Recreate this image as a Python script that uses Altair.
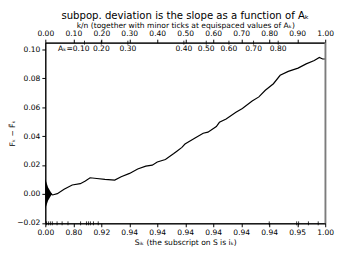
import altair as alt
import pandas as pd

# curve: k/n vs deviation
kn = [0.02, 0.026, 0.043, 0.067, 0.096, 0.125, 0.143, 0.160, 0.184, 0.213, 0.248, 0.271,
      0.301, 0.330, 0.359, 0.382, 0.400, 0.429, 0.459, 0.470, 0.488, 0.499, 0.535, 0.564,
      0.581, 0.611, 0.622, 0.646, 0.681, 0.704, 0.739, 0.763, 0.786, 0.815, 0.839, 0.868,
      0.903, 0.932, 0.961, 0.979, 0.991, 1.0]
dev = [0.0, -0.0007, 0.0002, 0.0032, 0.0062, 0.0071, 0.0089, 0.0112, 0.0107, 0.0101, 0.0096, 0.0119,
       0.0142, 0.0173, 0.0192, 0.0199, 0.0221, 0.0238, 0.0279, 0.0295, 0.0322, 0.0345, 0.0386, 0.0420,
       0.0427, 0.0466, 0.0495, 0.0518, 0.0564, 0.0591, 0.0642, 0.0671, 0.0717, 0.0762, 0.0820, 0.0847,
       0.0870, 0.0899, 0.0922, 0.0944, 0.0933, 0.0933]

# triangle at origin
tri_x = [0.0, 0.01, 0.02, 0.025]
tri_hi = [0.0103, 0.0045, 0.0012, 0.0]
tri_lo = [-0.0103, -0.0045, -0.0012, 0.0]

# tick labels
major_ticks = [0.0, 0.1, 0.2, 0.3, 0.4, 0.5, 0.6, 0.7, 0.8, 0.9, 1.0]
bottom_labels = ["0.00", "0.80", "0.92", "0.94", "0.94", "0.94", "0.94", "0.94", "0.94", "0.95", "1.00"]
y_ticks = [-0.02, 0.0, 0.02, 0.04, 0.06, 0.08, 0.10]

# A_k labels inside plot, with minor ticks on top
ak_pos = [0.102, 0.200, 0.295, 0.495, 0.575, 0.656, 0.744, 0.832]
ak_text = ["Aₖ=0.10", "0.20", "0.30", "0.40", "0.50", "0.60", "0.70", "0.80"]
ak_minor = [0.14, 0.200, 0.295, 0.495, 0.575, 0.656, 0.744, 0.832]

# bottom minor ticks (k/n positions)
bottom_minor = [0.004, 0.011, 0.018, 0.025, 0.042, 0.060, 0.081, 0.126, 0.147, 0.154,
                0.161, 0.172, 0.189, 0.80, 0.898, 0.905, 0.94, 0.975]

W, H = 285, 184
XDOM = [0, 1]
YDOM = [-0.0203, 0.1046]

curve_df = pd.DataFrame({"kn": kn, "dev": dev})
tri_df = pd.DataFrame({"kn": tri_x, "dev": tri_hi, "lo": tri_lo})
ak_df = pd.DataFrame({"kn": ak_pos, "t": ak_text})
akm_df = pd.DataFrame({"kn": ak_minor})
bm_df = pd.DataFrame({"kn": bottom_minor})
edge_df = pd.DataFrame({"kn": [1.0]})

label_arr = "[" + ",".join("'%s'" % s for s in bottom_labels) + "]"

xscale = alt.Scale(domain=XDOM, nice=False, zero=False)
yscale = alt.Scale(domain=YDOM, nice=False, zero=False)

font = "DejaVu Sans"
FS = 7.7

common = dict(grid=False, tickSize=3.5, labelFontSize=FS, titleFontSize=FS,
              titleFontWeight="normal", labelFont=font, titleFont=font,
              tickColor="black", domainColor="black", labelColor="black",
              titleColor="black", labelOverlap=False, labelFlush=False)

x_bottom = alt.X("kn:Q", scale=xscale,
                 axis=alt.Axis(orient="bottom", values=major_ticks,
                               labelExpr=label_arr + "[round(datum.value*10)]",
                               title="Sᵢₖ (the subscript on S is iₖ)",
                               labelPadding=2, titlePadding=2, **common))

y_axis = alt.Y("dev:Q", scale=yscale,
               axis=alt.Axis(values=y_ticks, format=".2f", title="Fₖ − F̃ₖ",
                             labelPadding=2, titleX=-33, titleAngle=270,
                             titleBaseline="middle", **common))

curve = alt.Chart(curve_df).mark_line(color="black", strokeWidth=1.2).encode(
    x=x_bottom, y=y_axis)

x_top = alt.X("kn:Q", scale=xscale,
              axis=alt.Axis(orient="top", values=major_ticks, format=".2f",
                            title="k/n (together with minor ticks at equispaced values of Aₖ)",
                            labelPadding=2, titlePadding=0, **common))

tri = alt.Chart(tri_df).mark_area(color="black", opacity=1).encode(
    x=x_top, y=y_axis, y2="lo:Q")

xn = alt.X("kn:Q", scale=xscale, axis=None)

ak = alt.Chart(ak_df).mark_text(fontSize=FS, font=font, color="black", align="center",
                                baseline="middle").encode(
    x=xn, y=alt.value(7), text="t:N")

akm = alt.Chart(akm_df).mark_rule(color="black", strokeWidth=0.8).encode(
    x=xn, y=alt.value(-2), y2=alt.value(2))

bm = alt.Chart(bm_df).mark_rule(color="black", strokeWidth=0.8).encode(
    x=xn, y=alt.value(H - 2), y2=alt.value(H + 2))

edge = alt.Chart(edge_df).mark_rule(color="#808080", strokeWidth=1.5).encode(
    x=xn, y=alt.value(0), y2=alt.value(H))

chart = alt.layer(tri, curve, edge, ak, akm, bm).resolve_axis(x="independent").properties(
    width=W, height=H,
    autosize=alt.AutoSizeParams(type="none"),
    padding={"left": 38, "top": 33, "right": 12, "bottom": 30},
    title=alt.TitleParams("subpop. deviation is the slope as a function of Aₖ",
                          fontSize=10.3, font=font, fontWeight="normal", color="black",
                          offset=0),
).configure_view(stroke="black", strokeWidth=1)

chart.save("out.html", embed_options={"renderer": "svg", "actions": False})
